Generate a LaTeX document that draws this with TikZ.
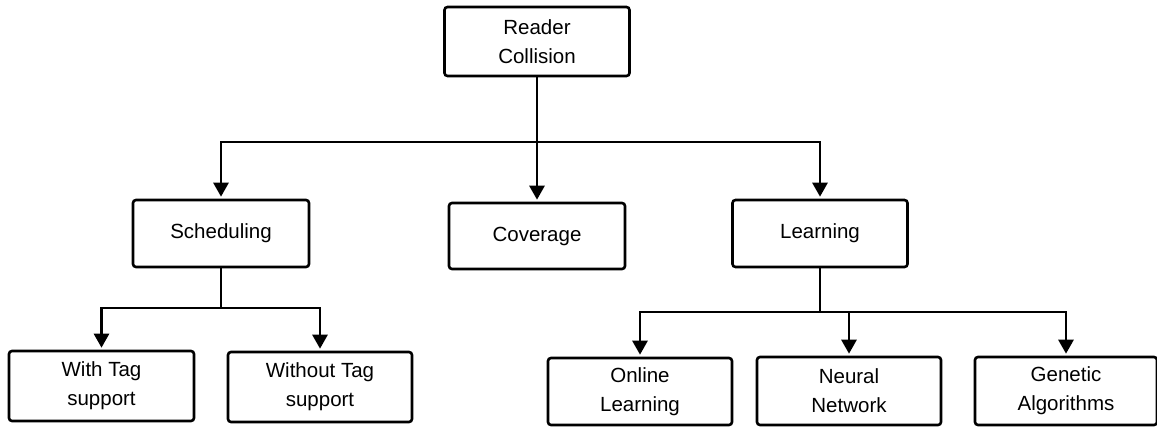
\documentclass[tikz,border=0pt]{standalone}
\usepackage{fontspec}
\setmainfont{Liberation Sans}
\usetikzlibrary{arrows.meta}
\begin{document}
\begin{tikzpicture}[x=1pt,y=-1pt,
  box/.style={draw, line width=2.6pt, rounded corners=3pt, align=center,
    inner sep=0pt, font=\fontsize{20.5}{29}\selectfont},
  link/.style={line width=2.8pt},
  arr/.style={link, -{Triangle[width=15pt,length=14pt]}, shorten >=2pt}]
\useasboundingbox (0,0) rectangle (1157,426);
% boxes
\node[box, minimum width=185pt, minimum height=69pt] (root) at (537,41.5) {Reader\\Collision};
\node[box, minimum width=176pt, minimum height=67pt] (sched) at (221,233.5) {Scheduling};
\node[box, minimum width=176pt, minimum height=66pt] (cov) at (537,236) {Coverage};
\node[box, minimum width=175pt, minimum height=67pt] (learn) at (820,233.5) {Learning};
\node[box, minimum width=185pt, minimum height=70pt] (with) at (101.5,386) {With Tag\\support};
\node[box, minimum width=184pt, minimum height=70pt] (without) at (320,387) {Without Tag\\support};
\node[box, minimum width=184pt, minimum height=67pt] (online) at (640,391.5) {Online\\Learning};
\node[box, minimum width=184pt, minimum height=68pt] (neural) at (849,391) {Neural\\Network};
\node[box, minimum width=182pt, minimum height=68pt] (genetic) at (1066,391) {Genetic\\Algorithms};
% junctions
\coordinate (j1) at (537,142);
\coordinate (j2) at (221,308);
\coordinate (j3) at (820,312);
% connectors
\draw[link] (root.south) -- (j1);
\draw[arr] (j1) -| (sched.north);
\draw[arr] (j1) -- (cov.north);
\draw[arr] (j1) -| (learn.north);
\draw[link] (sched.south) -- (j2);
\draw[arr] (j2) -| (with.north);
\draw[arr] (j2) -| (without.north);
\draw[link] (learn.south) -- (j3);
\draw[arr] (j3) -| (online.north);
\draw[arr] (j3) -| (neural.north);
\draw[arr] (j3) -| (genetic.north);
\end{tikzpicture}
\end{document}
